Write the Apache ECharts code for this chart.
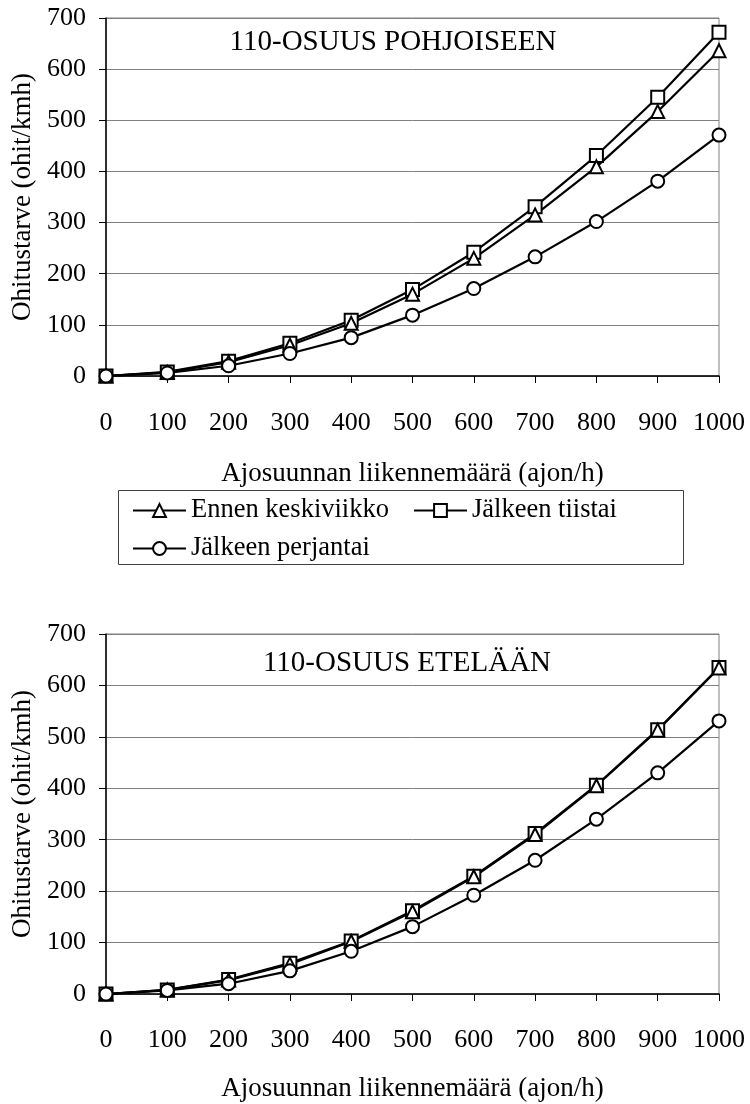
<!DOCTYPE html>
<html>
<head>
<meta charset="utf-8">
<title>Ohitustarve 110-osuus</title>
<script src="https://cdn.jsdelivr.net/npm/echarts@6/dist/echarts.min.js"></script>
<style>
  html, body { margin: 0; padding: 0; background: #fff; }
  #chart { width: 750px; height: 1104px; }
</style>
</head>
<body>
<div id="chart"></div>
<script>
// Traffic volume in the driving direction (veh/h)
const volumes = [0, 100, 200, 300, 400, 500, 600, 700, 800, 900, 1000];

// Passing demand, section 110 northbound
const northBeforeWed = [0, 7, 27, 60, 103, 160, 230, 315, 409, 517, 636];
const northAfterTue  = [0, 8, 29, 64, 109, 169, 242, 331, 431, 545, 672];
const northAfterFri  = [0, 6, 20, 44, 75, 119, 171, 233, 302, 381, 471];

// Passing demand, section 110 southbound
const southBeforeWed = [0, 8, 27, 58, 102, 160, 228, 310, 405, 513, 634];
const southAfterTue  = [0, 8, 28, 60, 103, 162, 229, 312, 406, 514, 635];
const southAfterFri  = [0, 7, 20, 45, 83, 131, 192, 260, 340, 430, 531];

const seriesNames = ['Ennen keskiviikko', 'Jälkeen tiistai', 'Jälkeen perjantai'];
const panelTitles = ['110-OSUUS POHJOISEEN', '110-OSUUS ETELÄÄN'];
const xTitle = 'Ajosuunnan liikennemäärä (ajon/h)';
const yTitle = 'Ohitustarve (ohit/kmh)';

const FONT = 'Liberation Serif, Times New Roman, serif';

const pairs = (ys) => volumes.map((v, i) => [v, ys[i]]);
const plainNumber = (v) => String(v);

function makeSeries(name, symbol, values, idx) {
  return {
    name: name,
    type: 'line',
    xAxisIndex: idx,
    yAxisIndex: idx,
    data: pairs(values),
    symbol: symbol,
    symbolSize: 13,
    showAllSymbol: true,
    lineStyle: { color: '#000', width: 2.2 },
    itemStyle: { color: '#fff', borderColor: '#000', borderWidth: 2 },
    emphasis: { disabled: true },
    animation: false
  };
}

function xAxis(idx, nameGap, labelMargin) {
  return {
    gridIndex: idx,
    type: 'value',
    min: 0, max: 1000, interval: 100,
    name: xTitle,
    nameLocation: 'middle',
    nameGap: nameGap,
    nameTextStyle: { fontFamily: FONT, fontSize: 27, color: '#000' },
    axisLine: { show: true, onZero: false, lineStyle: { color: '#000', width: 1.5 } },
    axisTick: { show: true, length: 7, lineStyle: { color: '#000', width: 1 } },
    axisLabel: { margin: labelMargin, fontFamily: FONT, fontSize: 26, color: '#000', formatter: plainNumber },
    splitLine: { show: false }
  };
}

function yAxis(idx) {
  return {
    gridIndex: idx,
    type: 'value',
    min: 0, max: 700, interval: 100,
    name: yTitle,
    nameLocation: 'middle',
    nameGap: 70,
    nameTextStyle: { fontFamily: FONT, fontSize: 27, color: '#000' },
    axisLine: { show: true, lineStyle: { color: '#000', width: 1.5 } },
    axisTick: { show: true, length: 7, lineStyle: { color: '#000', width: 1 } },
    axisLabel: { margin: 20, fontFamily: FONT, fontSize: 26, color: '#000', formatter: plainNumber },
    splitLine: { show: true, lineStyle: { color: '#808080', width: 1 } }
  };
}

const legendBase = {
  orient: 'horizontal',
  padding: 0,
  itemWidth: 53,
  itemHeight: 16,
  itemGap: 24,
  selectedMode: false,
  textStyle: { fontFamily: FONT, fontSize: 26.5, color: '#000', lineHeight: 26 }
};

const chart = echarts.init(document.getElementById('chart'), null, { renderer: 'canvas' });

chart.setOption({
  backgroundColor: '#fff',
  animation: false,
  textStyle: { fontFamily: FONT, color: '#000' },
  grid: [
    { left: 106, top: 18, width: 613, height: 358, show: true, borderColor: '#808080', borderWidth: 1, backgroundColor: 'transparent' },
    { left: 106, top: 634, width: 613, height: 360, show: true, borderColor: '#808080', borderWidth: 1, backgroundColor: 'transparent' }
  ],
  xAxis: [xAxis(0, 84, 34), xAxis(1, 81, 33)],
  yAxis: [yAxis(0), yAxis(1)],
  legend: [
    Object.assign({}, legendBase, { left: 132, top: 497, data: [seriesNames[0], seriesNames[1]] }),
    Object.assign({}, legendBase, { left: 132, top: 535, data: [seriesNames[2]] })
  ],
  graphic: [
    {
      type: 'rect',
      shape: { x: 118.5, y: 490.5, width: 565, height: 74 },
      style: { fill: 'none', stroke: '#404040', lineWidth: 1 },
      silent: true
    },
    {
      type: 'text', x: 393, y: 42, silent: true,
      style: { text: panelTitles[0], font: '29px ' + FONT, fill: '#000', align: 'center', verticalAlign: 'middle', textAlign: 'center', textVerticalAlign: 'middle' }
    },
    {
      type: 'text', x: 407, y: 663, silent: true,
      style: { text: panelTitles[1], font: '29px ' + FONT, fill: '#000', align: 'center', verticalAlign: 'middle', textAlign: 'center', textVerticalAlign: 'middle' }
    }
  ],
  series: [
    makeSeries(seriesNames[1], 'rect', northAfterTue, 0),
    makeSeries(seriesNames[0], 'triangle', northBeforeWed, 0),
    makeSeries(seriesNames[2], 'circle', northAfterFri, 0),
    makeSeries(seriesNames[1], 'rect', southAfterTue, 1),
    makeSeries(seriesNames[0], 'triangle', southBeforeWed, 1),
    makeSeries(seriesNames[2], 'circle', southAfterFri, 1)
  ]
});
</script>
</body>
</html>
